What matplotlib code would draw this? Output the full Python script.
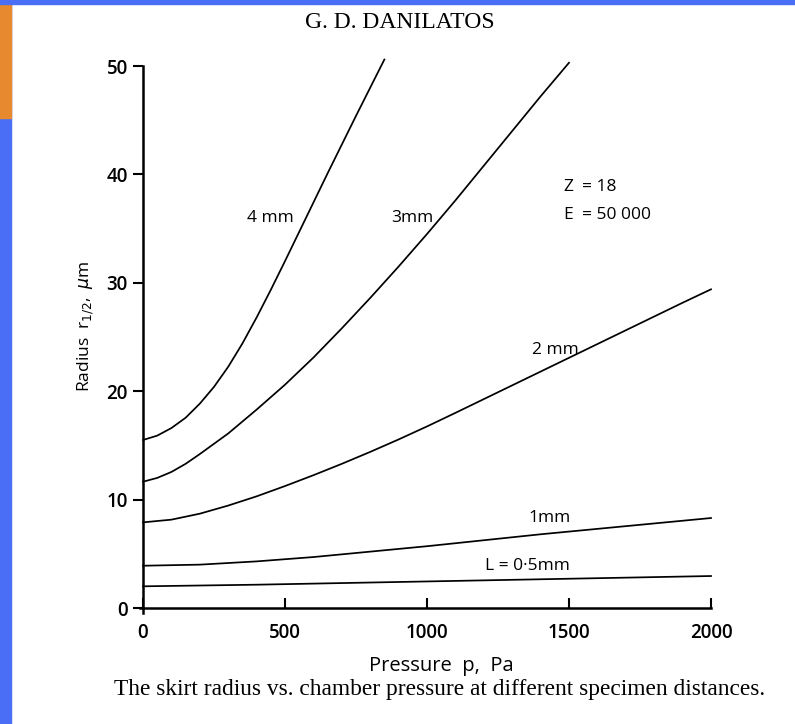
import matplotlib.pyplot as plt
from matplotlib.patches import Rectangle

# Curves (pressure in Pa, radius in um)
p_4mm = [0, 50, 100, 150, 200, 250, 300, 350, 400, 450, 500, 550, 600, 650, 700, 750, 800, 850]
r_4mm = [15.5, 15.9, 16.6, 17.55, 18.85, 20.4, 22.25, 24.4, 26.8, 29.35, 32.0, 34.7,
         37.4, 40.1, 42.75, 45.4, 48.0, 50.6]

p_3mm = [0, 50, 100, 150, 200, 300, 400, 500, 600, 700, 800, 900, 1000,
         1100, 1200, 1300, 1400, 1500]
r_3mm = [11.65, 12.0, 12.55, 13.3, 14.2, 16.1, 18.3, 20.6, 23.1, 25.8, 28.6, 31.5, 34.5,
         37.6, 40.8, 44.0, 47.2, 50.3]

p_2mm = [0, 100, 200, 300, 400, 500, 600, 700, 800, 900, 1000,
         1100, 1200, 1300, 1400, 1500, 1600, 1700, 1800, 1900, 2000]
r_2mm = [7.9, 8.15, 8.7, 9.45, 10.3, 11.25, 12.25, 13.3, 14.4, 15.55, 16.75,
         18.0, 19.27, 20.54, 21.81, 23.08, 24.35, 25.62, 26.89, 28.16, 29.4]

p_1mm = [0, 200, 400, 600, 800, 1000, 1200, 1400, 1600, 1800, 2000]
r_1mm = [3.9, 4.0, 4.3, 4.7, 5.2, 5.7, 6.25, 6.8, 7.3, 7.8, 8.3]

p_05mm = [0, 400, 800, 1200, 1600, 2000]
r_05mm = [2.0, 2.15, 2.35, 2.55, 2.75, 2.95]

x_ticks = [0, 500, 1000, 1500, 2000]
y_ticks = [0, 10, 20, 30, 40, 50]

sans = "Open Sans"
serif = "Liberation Serif"

fig = plt.figure(figsize=(7.95, 7.24), dpi=100, facecolor="white")

# scan border (blue frame with orange corner)
W, H = 795, 724
fig.patches.append(Rectangle((0, 0), 11 / W, 1, transform=fig.transFigure,
                             color="#4a6ef5", zorder=0))
fig.patches.append(Rectangle((0, 1 - 118 / H), 11 / W, 118 / H, transform=fig.transFigure,
                             color="#e6892f", zorder=0))
fig.patches.append(Rectangle((0, 1 - 4 / H), 1, 4 / H, transform=fig.transFigure,
                             color="#4a6ef5", zorder=0))

# axes: x 0..2000 -> px 143..711, y 0..50 -> px 608..66
x0, x1 = -10, 2000
y0, y1 = -0.5, 50
px_per_x = (711 - 143) / 2000
px_per_y = (608 - 66) / 50
left_px = 143 + x0 * px_per_x
bottom_px = 608 - y0 * px_per_y
ax = fig.add_axes([left_px / W, 1 - bottom_px / H,
                   (x1 - x0) * px_per_x / W, (y1 - y0) * px_per_y / H])
ax.set_facecolor("none")

for p, r in [(p_4mm, r_4mm), (p_3mm, r_3mm), (p_2mm, r_2mm),
             (p_1mm, r_1mm), (p_05mm, r_05mm)]:
    ax.plot(p, r, color="black", lw=1.25, clip_on=False, solid_joinstyle="round")

ax.set_xlim(x0, x1)
ax.set_ylim(y0, y1)
ax.spines["top"].set_visible(False)
ax.spines["right"].set_visible(False)
ax.spines["left"].set_position(("data", 0))
ax.spines["bottom"].set_position(("data", 0))
ax.spines["left"].set_linewidth(1.8)
ax.spines["bottom"].set_linewidth(1.8)

ax.set_xticks(x_ticks)
ax.set_yticks(y_ticks)
ax.tick_params(axis="x", direction="in", length=7, width=1.5, pad=11)
ax.tick_params(axis="y", direction="out", length=7, width=1.5, pad=4)
for lbl in ax.get_xticklabels() + ax.get_yticklabels():
    lbl.set_fontfamily(sans)
    lbl.set_fontsize(13.5)
    lbl.set_fontweight("semibold")

ax.set_xlabel("Pressure  p,  Pa", fontfamily=sans, fontsize=14.5)
ax.xaxis.set_label_coords(0.527, -0.078)
ax.set_ylabel(r"Radius  r$_{1/2}$,  $\mu$m", fontfamily=sans, fontsize=12.5)
ax.yaxis.set_label_coords(-0.077, 0.525)

# curve labels
lab = dict(fontfamily=sans, fontsize=12.5, ha="center", va="center")
ax.text(447, 36.0, "4 mm", **lab)
ax.text(947, 36.0, "3mm", **lab)
ax.text(1451, 23.8, "2 mm", **lab)
ax.text(1433, 8.3, "1mm", **lab)
ax.text(1352, 3.9, "L = 0·5mm", **lab)
ax.text(1496, 38.8, "Z", **lab)
ax.text(1546, 38.8, "= 18", fontfamily=sans, fontsize=12.5, ha="left", va="center")
ax.text(1496, 36.3, "E", **lab)
ax.text(1546, 36.3, "= 50 000", fontfamily=sans, fontsize=12.5, ha="left", va="center")

fig.text(400 / W, 1 - 22 / H, "G. D. DANILATOS", fontfamily=serif, fontsize=17,
         ha="center", va="center")
fig.text(440 / W, 1 - 690 / H,
         "The skirt radius vs. chamber pressure at different specimen distances.",
         fontfamily=serif, fontsize=16.8, ha="center", va="center")

fig.savefig("out.png", dpi=100, facecolor="white")
